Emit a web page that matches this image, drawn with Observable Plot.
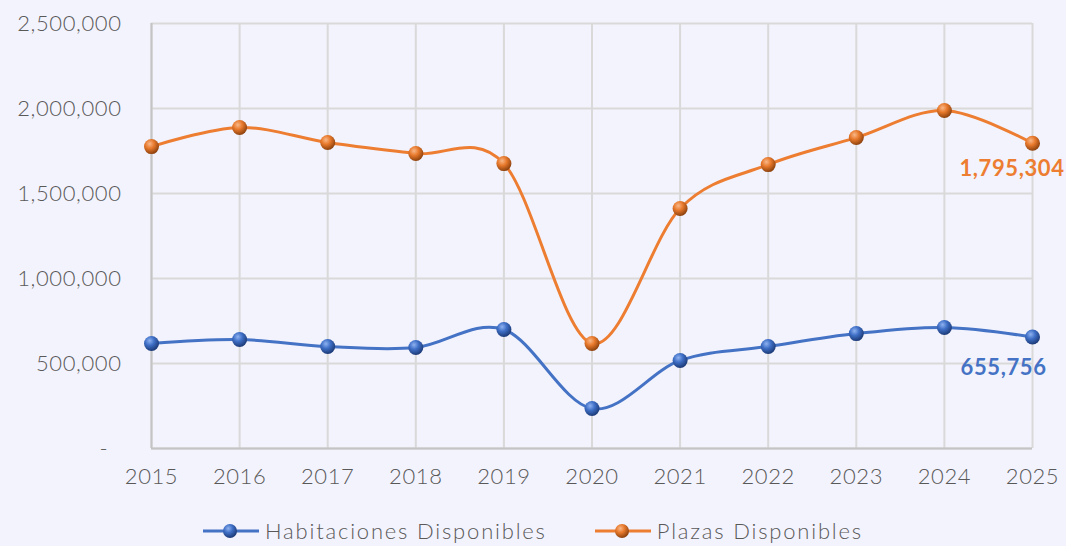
<!DOCTYPE html>
<html><head><meta charset="utf-8">
<script src="https://cdn.jsdelivr.net/npm/d3@7"></script>
<script src="https://cdn.jsdelivr.net/npm/@observablehq/plot@0.6"></script>
<style>
html,body{margin:0;padding:0;background:#f3f3fd;}
body{width:1066px;height:546px;overflow:hidden;font-family:Lato,"Open Sans",sans-serif;}
#chart{height:505px;}
#legend{display:flex;justify-content:center;align-items:center;height:36px;padding-top:8px;font-size:22px;line-height:24px;color:#595959;letter-spacing:1.8px;font-weight:300;}
#legend .item{display:flex;align-items:center;}
#legend .item + .item{margin-left:48px;}
#legend svg{margin-right:6px;}
</style></head><body>
<div id="chart"></div>
<div id="legend"></div>
<script>
const years = [2015, 2016, 2017, 2018, 2019, 2020, 2021, 2022, 2023, 2024, 2025];
const habitaciones = [618000, 641000, 600000, 594000, 700000, 235000, 518000, 600000, 676000, 712000, 655756];
const plazas = [1776000, 1888000, 1800000, 1735000, 1676000, 618000, 1412000, 1670000, 1829000, 1988000, 1795304];
const yTicks = [0, 500000, 1000000, 1500000, 2000000, 2500000];
const seriesNames = ["Habitaciones Disponibles", "Plazas Disponibles"];
const seriesColors = ["#4472C4", "#ED7D31"];

const fmt = d3.format(",");
const habData = years.map((y, i) => ({year: y, value: habitaciones[i], serie: seriesNames[0]}));
const plaData = years.map((y, i) => ({year: y, value: plazas[i], serie: seriesNames[1]}));
const allData = habData.concat(plaData);
const lastHab = habData.slice(-1);
const lastPla = plaData.slice(-1);

const W = 1066, H = 505;
const chart = Plot.plot({
  width: W, height: H,
  marginLeft: 151, marginRight: 34, marginTop: 23, marginBottom: H - 448,
  style: {background: "transparent", fontFamily: "Lato, 'Open Sans', sans-serif", fontSize: "22px", color: "#595959", letterSpacing: "0.6px", fontWeight: 300},
  x: {type: "linear", domain: [2015, 2025], ticks: years, tickFormat: d => String(d), tickSize: 0, tickPadding: 20, label: null},
  y: {domain: [0, 2500000], ticks: yTicks, tickFormat: d => d === 0 ? "-\u00a0\u00a0" : fmt(d), tickSize: 0, tickPadding: 30, label: null},
  color: {domain: seriesNames, range: seriesColors},
  marks: [
    Plot.gridX(years, {stroke: "#d9d9d9", strokeOpacity: 1, strokeWidth: 2}),
    Plot.gridY(yTicks, {stroke: "#d9d9d9", strokeOpacity: 1, strokeWidth: 2}),
    Plot.ruleX([2015], {stroke: "#c4c4c4", strokeWidth: 2}),
    Plot.ruleY([0], {stroke: "#c4c4c4", strokeWidth: 2}),
    Plot.line(allData, {x: "year", y: "value", z: "serie", stroke: "serie", curve: "cardinal", strokeWidth: 3}),
    Plot.dot(habData, {x: "year", y: "value", r: 7.5, fill: "url(#gBlue)", stroke: "none"}),
    Plot.dot(plaData, {x: "year", y: "value", r: 7.5, fill: "url(#gOrange)", stroke: "none"}),
    Plot.text(lastPla, {x: "year", y: "value", text: d => fmt(d.value), fill: seriesColors[1], fontWeight: "bold", fontSize: 22, textAnchor: "end", dx: 32, dy: 26}),
    Plot.text(lastHab, {x: "year", y: "value", text: d => fmt(d.value), fill: seriesColors[0], fontWeight: "bold", fontSize: 22, textAnchor: "end", dx: 14, dy: 31})
  ]
});

function addDefs(svgNode, suffix) {
  const defs = d3.select(svgNode).insert("defs", ":first-child");
  const mk = (id, light, mid, dark) => {
    const g = defs.append("radialGradient").attr("id", id + suffix).attr("cx", "38%").attr("cy", "32%").attr("r", "68%");
    g.append("stop").attr("offset", "0%").attr("stop-color", light);
    g.append("stop").attr("offset", "45%").attr("stop-color", mid);
    g.append("stop").attr("offset", "100%").attr("stop-color", dark);
  };
  mk("gBlue", "#8fb2f0", "#3f6fc6", "#1d3b78");
  mk("gOrange", "#f8b889", "#e8792c", "#8e420e");
}
addDefs(chart, "");
chart.style.display = "block";
document.getElementById("chart").appendChild(chart);

const legend = d3.select("#legend");
const gradIds = ["gBlue", "gOrange"];
seriesNames.forEach((name, i) => {
  const item = legend.append("div").attr("class", "item");
  const s = item.append("svg").attr("width", 56).attr("height", 20);
  addDefs(s.node(), "L" + i);
  s.append("line").attr("x1", 0).attr("x2", 56).attr("y1", 10).attr("y2", 10).attr("stroke", seriesColors[i]).attr("stroke-width", 3);
  s.append("circle").attr("cx", 27).attr("cy", 10).attr("r", 7).attr("fill", "url(#" + gradIds[i] + "L" + i + ")");
  item.append("span").text(name);
});
</script>
</body></html>
